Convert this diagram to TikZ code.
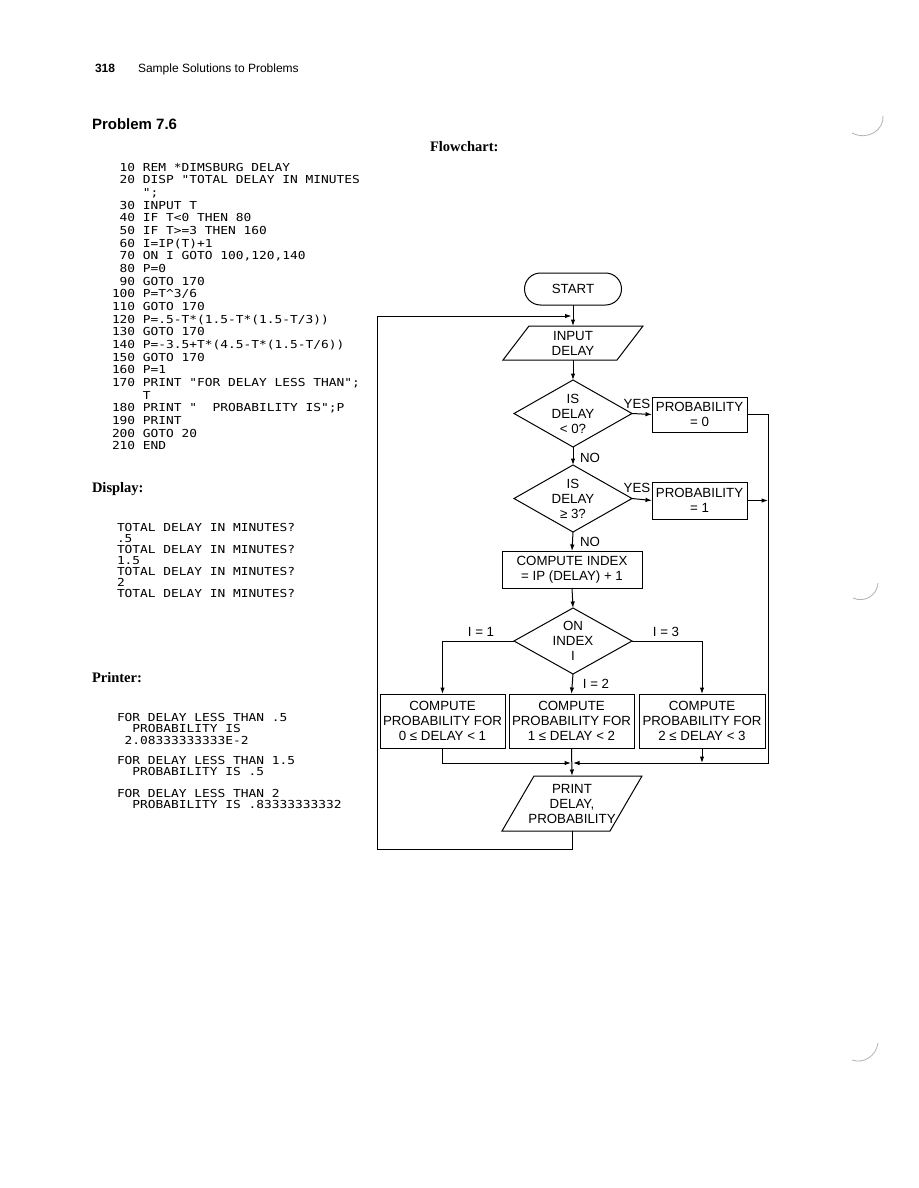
\documentclass[tikz,border=0pt]{standalone}
\usepackage{fontspec}
\setmainfont{Liberation Sans}
\newfontfamily\headserif{Liberation Serif}
\newfontfamily\codefont[FakeStretch=1.17]{DejaVu Sans Mono}
\usetikzlibrary{arrows.meta}
\tikzset{
  every node/.style={inner sep=0pt, outer sep=0pt},
  code/.style={anchor=base west, font=\codefont\fontsize{11}{12.68}\selectfont},
  flow/.style={font=\fontsize{13.3}{15}\selectfont, align=center},
  lbl/.style={font=\fontsize{13.3}{15}\selectfont},
  boxed/.style={flow, draw, line width=1pt},
  shapeline/.style={line width=1pt, line join=miter},
  arr/.style={line width=1pt, -{Latex[length=6.5pt,width=4.5pt]}},
  secthead/.style={anchor=base west, font=\headserif\bfseries\fontsize{14.5}{16}\selectfont},
}
\begin{document}
\begin{tikzpicture}[x=1pt,y=-1pt]
\fill[white] (0,0) rectangle (918,1188);
\useasboundingbox (0,0) rectangle (918,1188);

% page header
\node[anchor=base west, font=\bfseries\fontsize{12}{14}\selectfont] (pagenum) at (95,73) {318};
\node[anchor=base west, font=\fontsize{12}{14}\selectfont] (runhead) at (138,73) {Sample Solutions to Problems};
\node[anchor=base west, font=\bfseries\fontsize{15}{16}\selectfont] (probtitle) at (92,129.5) {Problem 7.6};
\node[secthead] (fchead) at (430,151.5) {Flowchart:};
\node[secthead] (disphead) at (92,492) {Display:};
\node[secthead] (printhead) at (92,682) {Printer:};

% program listing
\foreach \t [count=\i] in {
 {\phantom{0}10 REM *DIMSBURG DELAY},
 {\phantom{0}20 DISP "TOTAL DELAY IN MINUTES},
 {\phantom{0000}";},
 {\phantom{0}30 INPUT T},
 {\phantom{0}40 IF T<0 THEN 80},
 {\phantom{0}50 IF T>=3 THEN 160},
 {\phantom{0}60 I=IP(T)+1},
 {\phantom{0}70 ON I GOTO 100,120,140},
 {\phantom{0}80 P=0},
 {\phantom{0}90 GOTO 170},
 {100 P=T\textasciicircum3/6},
 {110 GOTO 170},
 {120 P=.5-T*(1.5-T*(1.5-T/3))},
 {130 GOTO 170},
 {140 P=-3.5+T*(4.5-T*(1.5-T/6))},
 {150 GOTO 170},
 {160 P=1},
 {170 PRINT "FOR DELAY LESS THAN";},
 {\phantom{0000}T},
 {180 PRINT "\ \ PROBABILITY IS";P},
 {190 PRINT},
 {200 GOTO 20},
 {210 END}}
 { \node[code] (L\i) at (112, 171+12.68*\i-12.68) {\t}; }

% display output
\foreach \t [count=\i] in {
 {TOTAL DELAY IN MINUTES?},
 {.5},
 {TOTAL DELAY IN MINUTES?},
 {1.5},
 {TOTAL DELAY IN MINUTES?},
 {2},
 {TOTAL DELAY IN MINUTES?}}
 { \node[code] (D\i) at (117, 531.5+11.05*\i-11.05) {\t}; }

% printer output
\foreach \y/\t [count=\i] in {
 721.5/{FOR DELAY LESS THAN .5},
 732.8/{\phantom{00}PROBABILITY IS},
 744.3/{\phantom{0}2.08333333333E-2},
 764/{FOR DELAY LESS THAN 1.5},
 775.5/{\phantom{00}PROBABILITY IS .5},
 797/{FOR DELAY LESS THAN 2},
 808/{\phantom{00}PROBABILITY IS .83333333332}}
 { \node[code] (P\i) at (117, \y) {\t}; }

% flowchart nodes
\node[boxed, rounded corners=16pt, minimum width=97pt, minimum height=32pt] (start) at (573,289) {START};

\node[flow, minimum width=140pt, minimum height=34pt] (input) at (573,343) {INPUT\\DELAY};
\draw[shapeline] ([xshift=26pt]input.north west) -- (input.north east) -- ([xshift=-26pt]input.south east) -- (input.south west) -- cycle;

\node[flow, minimum width=118pt, minimum height=67pt] (d1) at (573,413.5) {IS\\DELAY\\< 0?};
\draw[shapeline] (d1.north) -- (d1.east) -- (d1.south) -- (d1.west) -- cycle;

\node[boxed, minimum width=95pt, minimum height=35pt] (p0) at (699.5,414.5) {PROBABILITY\\= 0};

\node[flow, minimum width=118pt, minimum height=67pt] (d2) at (573,498.5) {IS\\DELAY\\≥ 3?};
\draw[shapeline] (d2.north) -- (d2.east) -- (d2.south) -- (d2.west) -- cycle;

\node[boxed, minimum width=95pt, minimum height=37pt] (p1) at (699.5,500.5) {PROBABILITY\\= 1};

\node[boxed, minimum width=140pt, minimum height=37pt] (ci) at (572,569.5) {COMPUTE INDEX\\= IP (DELAY) + 1};

\node[flow, minimum width=118pt, minimum height=66pt] (d3) at (573,641) {ON\\INDEX\\I};
\draw[shapeline] (d3.north) -- (d3.east) -- (d3.south) -- (d3.west) -- cycle;

\node[boxed, minimum width=125pt, minimum height=54pt] (b1) at (442.5,721) {COMPUTE\\PROBABILITY FOR\\0 ≤ DELAY < 1};
\node[boxed, minimum width=125pt, minimum height=54pt] (b2) at (571.5,721) {COMPUTE\\PROBABILITY FOR\\1 ≤ DELAY < 2};
\node[boxed, minimum width=126pt, minimum height=54pt] (b3) at (702,721) {COMPUTE\\PROBABILITY FOR\\2 ≤ DELAY < 3};

\node[flow, minimum width=140pt, minimum height=55pt] (print) at (572,803.5) {PRINT\\DELAY,\\PROBABILITY};
\draw[shapeline] ([xshift=32pt]print.north west) -- (print.north east) -- ([xshift=-32pt]print.south east) -- (print.south west) -- cycle;

% labels
\node[lbl] (yes1) at (637,404) {YES};
\node[lbl] (yes2) at (637,488) {YES};
\node[lbl] (no1) at (590,458) {NO};
\node[lbl] (no2) at (590,542) {NO};
\node[lbl] (i1) at (481,632) {I = 1};
\node[lbl] (i3) at (666,632) {I = 3};
\node[lbl] (i2) at (596,684) {I = 2};

% junction coordinates
\coordinate (join) at (572.5,316);
\coordinate (merge) at (572,763);
\coordinate (rc) at (768,763);
\coordinate (lc) at (377,849);

% connectors
\draw[arr] (start.south) -- (input.north);
\draw[arr] (input.south) -- (d1.north);
\draw[arr] (d1.east) -- (p0.west);
\draw[arr] (d1.south) -- (d2.north);
\draw[arr] (d2.east) -- (p1.west);
\draw[arr] (d2.south) -- (ci.north);
\draw[arr] (ci.south) -- (d3.north);
\draw[arr] (d3.west) -| (b1.north);
\draw[arr] (d3.east) -| (b3.north);
\draw[arr] (d3.south) -- (b2.north);
\draw[arr] (b1.south) |- ([xshift=-1pt]merge);
\draw[arr] (p0.east) -| (rc) -- ([xshift=1pt]merge);
\draw[arr] (p1.east) -- (p1.east -| rc);
\draw[arr] (b3.south) -- (b3.south |- merge);
\draw[arr] (b2.south) -- (print.north);
\draw[arr] (print.south) |- (lc) |- ([xshift=-1pt]join);

% scan marks at the page edge
\draw[gray!60, line width=0.8pt] (852,133) .. controls (868,141) and (884,130) .. (883,116);
\draw[gray!60, line width=0.8pt] (853,598) .. controls (864,603) and (877,596) .. (878,583);
\draw[gray!60, line width=0.8pt] (852,1060) .. controls (864,1064) and (876,1056) .. (878,1043);
\end{tikzpicture}
\end{document}
